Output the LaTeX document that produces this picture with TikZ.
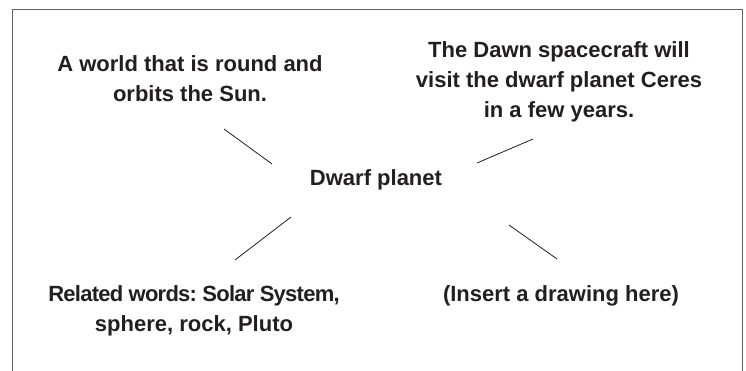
\documentclass[tikz,border=0pt]{standalone}
\usepackage{fontspec}
\setmainfont{Liberation Sans}
\usepackage{tikz}
\usetikzlibrary{positioning}
\frenchspacing
\definecolor{inkdark}{RGB}{35,31,32}
\definecolor{framegray}{RGB}{95,95,95}
\tikzset{
  card/.style={font=\bfseries\fontsize{22}{30}\selectfont, text=inkdark, align=center, inner sep=0pt, anchor=base},
  spoke/.style={line width=0.8pt, inkdark},
}

\begin{document}
\begin{tikzpicture}[x=1pt, y=-1pt]

% Page size
\useasboundingbox (0,0) rectangle (746,371);

% Frame, open at the bottom
\draw[line width=1.3pt, framegray] (12.5,371) -- (12.5,9.5) -- (742.5,9.5) -- (742.5,371);

% Centre word
\node[card] (word) at (376,186) {Dwarf planet};

% Four corners (base = last line)
\node[card] (defn) at (190,102) {A world that is round and\\orbits the Sun.};
\node[card] (fact) at (559,118) {The Dawn spacecraft will\\visit the dwarf planet Ceres\\in a few years.};
\node[card] (related) at (194,331) {{\addfontfeature{LetterSpace=-3.4}Related words: Solar System,}\\sphere, rock, Pluto};
\node[card] (drawing) at (561,301) {(Insert a drawing here)};

% Spoke ends
\coordinate (defn-end) at (224,129);
\coordinate (defn-word) at (272,164);
\coordinate (fact-word) at (477,163);
\coordinate (fact-end) at (533,139);
\coordinate (related-end) at (235,260);
\coordinate (related-word) at (291,217);
\coordinate (drawing-word) at (509,225);
\coordinate (drawing-end) at (557,259);

% Spokes
\draw[spoke] (defn-end) -- (defn-word);
\draw[spoke] (fact-word) -- (fact-end);
\draw[spoke] (related-end) -- (related-word);
\draw[spoke] (drawing-word) -- (drawing-end);

\end{tikzpicture}
\end{document}
